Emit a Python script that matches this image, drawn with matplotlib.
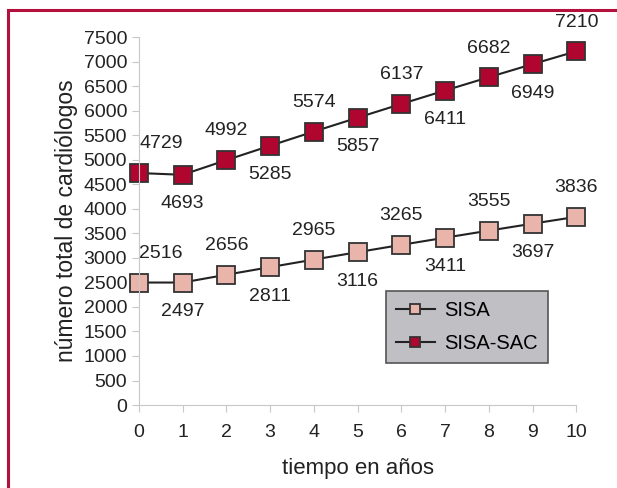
import matplotlib.pyplot as plt
from matplotlib.patches import Rectangle

plt.rcParams['font.family'] = ['Liberation Sans', 'DejaVu Sans']

# Daten
anios = [0, 1, 2, 3, 4, 5, 6, 7, 8, 9, 10]
sisa = [2497, 2497, 2656, 2811, 2965, 3116, 3265, 3411, 3555, 3697, 3836]
sisa_etiquetas = [2516, 2497, 2656, 2811, 2965, 3116, 3265, 3411, 3555, 3697, 3836]
sisa_sac = [4729, 4693, 4992, 5285, 5574, 5857, 6137, 6411, 6682, 6949, 7210]
yticks = list(range(0, 7501, 500))

rojo = '#b0052f'
rosa = '#e9b4aa'
gris = '#c8c8c8'

fig = plt.figure(figsize=(6.17, 4.88), dpi=100)
ax = fig.add_axes([0.225, 0.170, 0.709, 0.754])

ax.plot(anios, sisa, '-s', color='#222222', lw=1.5, ms=13,
        mfc=rosa, mec='#333333', mew=1.3, label='SISA', clip_on=False)
ax.plot(anios, sisa_sac, '-s', color='#222222', lw=1.5, ms=13,
        mfc=rojo, mec='#333333', mew=1.3, label='SISA-SAC', clip_on=False)

# Etiquetas: pares arriba, impares abajo
for serie, etiquetas in ((sisa, sisa_etiquetas), (sisa_sac, sisa_sac)):
    for x, y, t in zip(anios, serie, etiquetas):
        dy = 21 if x % 2 == 0 else -21
        dx = 16 if x == 0 else 0
        ax.annotate(str(t), (x, y), xytext=(dx, dy), textcoords='offset points',
                    ha='center', va='center', fontsize=14, color='#222222')

ax.set_xlim(0, 10)
ax.set_ylim(0, 7500)
ax.set_xticks(anios)
ax.set_yticks(yticks)
ax.tick_params(labelsize=14, colors=gris, labelcolor='#222222', length=5)
ax.tick_params(axis='x', pad=9)
for s in ('top', 'right'):
    ax.spines[s].set_visible(False)
ax.spines['left'].set_color(gris)
ax.spines['bottom'].set_color(gris)

ax.set_xlabel('tiempo en años', fontsize=16, color='#222222', labelpad=12)
ax.set_ylabel('número total de cardiólogos', fontsize=16.5, color='#222222', labelpad=4)

leg = ax.legend(loc='lower right', bbox_to_anchor=(0.936, 0.114), borderaxespad=0,
                fontsize=14.5, fancybox=False, framealpha=1, handlelength=1.9,
                borderpad=0.5, labelspacing=0.7, markerscale=0.6, handletextpad=0.5)
leg.get_frame().set_facecolor('#c0c0c4')
leg.get_frame().set_edgecolor('#555555')
leg.get_frame().set_linewidth(1.2)

# Rahmen (rot) oben und links
fig.patches.append(Rectangle((8 / 617, -0.1), 1.2, 1.1 - 10 / 488, transform=fig.transFigure,
                             fill=False, edgecolor='#b5103c', lw=2.2))

fig.savefig('out.png', dpi=100)
